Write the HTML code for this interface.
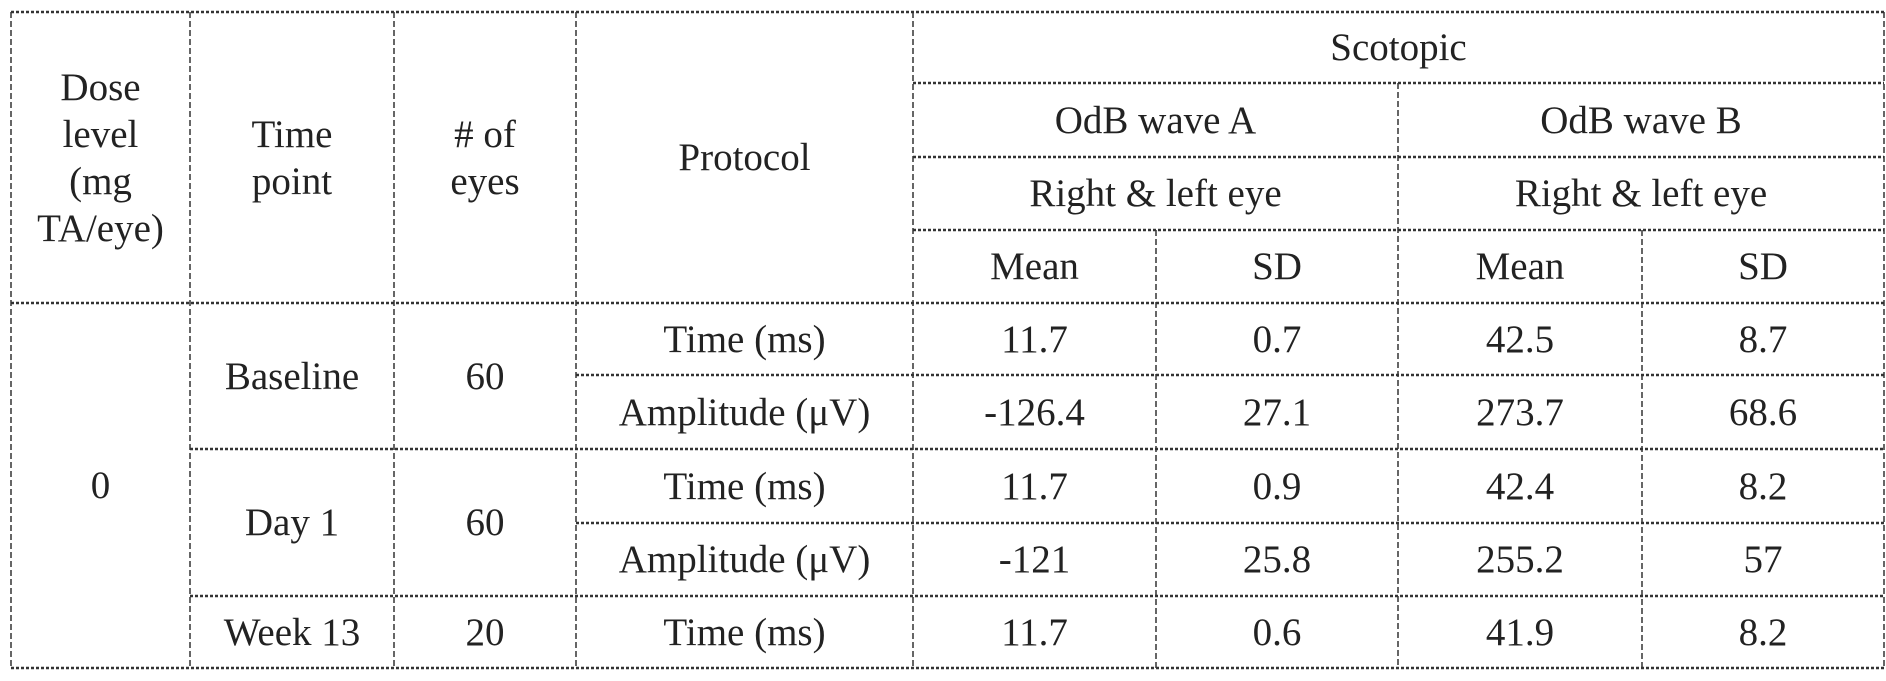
<!DOCTYPE html>
<html><head><meta charset="utf-8"><style>
html,body{margin:0;padding:0;background:#fff;}
#wrap{position:relative;width:1886px;height:681px;overflow:hidden;font-family:"Liberation Serif",serif;color:#222;}
svg{position:absolute;left:0;top:0;}
.c{position:absolute;display:flex;align-items:center;justify-content:center;text-align:center;font-size:39px;line-height:47px;white-space:nowrap;}
</style></head><body>
<div id="wrap">
<svg width="1886" height="681">
<g stroke="#333" fill="none">
<g stroke-width="2.5" stroke-dasharray="3 2">
<line x1="11" y1="12" x2="1884" y2="12"/>
<line x1="913" y1="83" x2="1884" y2="83"/>
<line x1="913" y1="157" x2="1884" y2="157"/>
<line x1="913" y1="230" x2="1884" y2="230"/>
<line x1="11" y1="303" x2="1884" y2="303"/>
<line x1="576" y1="375" x2="1884" y2="375"/>
<line x1="190" y1="449" x2="1884" y2="449"/>
<line x1="576" y1="523" x2="1884" y2="523"/>
<line x1="190" y1="596" x2="1884" y2="596"/>
<line x1="11" y1="668" x2="1884" y2="668"/>
</g>
<g stroke-width="1.5" stroke-dasharray="6 3">
<line x1="11" y1="12" x2="11" y2="668"/>
<line x1="190" y1="12" x2="190" y2="668"/>
<line x1="394" y1="12" x2="394" y2="668"/>
<line x1="576" y1="12" x2="576" y2="668"/>
<line x1="913" y1="12" x2="913" y2="668"/>
<line x1="1156" y1="230" x2="1156" y2="668"/>
<line x1="1398" y1="83" x2="1398" y2="668"/>
<line x1="1642" y1="230" x2="1642" y2="668"/>
<line x1="1884" y1="12" x2="1884" y2="668"/>
</g>
</g>
</svg>
<div class="c" style="left:11px;top:12px;width:179px;height:291px">Dose<br>level<br>(mg<br>TA/eye)</div>
<div class="c" style="left:190px;top:12px;width:204px;height:291px">Time<br>point</div>
<div class="c" style="left:394px;top:12px;width:182px;height:291px"># of<br>eyes</div>
<div class="c" style="left:576px;top:12px;width:337px;height:291px">Protocol</div>
<div class="c" style="left:913px;top:12px;width:971px;height:71px">Scotopic</div>
<div class="c" style="left:913px;top:83px;width:485px;height:74px">OdB wave A</div>
<div class="c" style="left:1398px;top:83px;width:486px;height:74px">OdB wave B</div>
<div class="c" style="left:913px;top:157px;width:485px;height:73px">Right &amp; left eye</div>
<div class="c" style="left:1398px;top:157px;width:486px;height:73px">Right &amp; left eye</div>
<div class="c" style="left:913px;top:230px;width:243px;height:73px">Mean</div>
<div class="c" style="left:1156px;top:230px;width:242px;height:73px">SD</div>
<div class="c" style="left:1398px;top:230px;width:244px;height:73px">Mean</div>
<div class="c" style="left:1642px;top:230px;width:242px;height:73px">SD</div>

<div class="c" style="left:11px;top:303px;width:179px;height:365px">0</div>
<div class="c" style="left:190px;top:303px;width:204px;height:146px">Baseline</div>
<div class="c" style="left:394px;top:303px;width:182px;height:146px">60</div>
<div class="c" style="left:190px;top:449px;width:204px;height:147px">Day 1</div>
<div class="c" style="left:394px;top:449px;width:182px;height:147px">60</div>
<div class="c" style="left:190px;top:596px;width:204px;height:72px">Week 13</div>
<div class="c" style="left:394px;top:596px;width:182px;height:72px">20</div>

<div class="c" style="left:576px;top:303px;width:337px;height:72px">Time (ms)</div>
<div class="c" style="left:576px;top:375px;width:337px;height:74px">Amplitude (μV)</div>
<div class="c" style="left:576px;top:449px;width:337px;height:74px">Time (ms)</div>
<div class="c" style="left:576px;top:523px;width:337px;height:73px">Amplitude (μV)</div>
<div class="c" style="left:576px;top:596px;width:337px;height:72px">Time (ms)</div>

<div class="c" style="left:913px;top:303px;width:243px;height:72px">11.7</div>
<div class="c" style="left:1156px;top:303px;width:242px;height:72px">0.7</div>
<div class="c" style="left:1398px;top:303px;width:244px;height:72px">42.5</div>
<div class="c" style="left:1642px;top:303px;width:242px;height:72px">8.7</div>

<div class="c" style="left:913px;top:375px;width:243px;height:74px">-126.4</div>
<div class="c" style="left:1156px;top:375px;width:242px;height:74px">27.1</div>
<div class="c" style="left:1398px;top:375px;width:244px;height:74px">273.7</div>
<div class="c" style="left:1642px;top:375px;width:242px;height:74px">68.6</div>

<div class="c" style="left:913px;top:449px;width:243px;height:74px">11.7</div>
<div class="c" style="left:1156px;top:449px;width:242px;height:74px">0.9</div>
<div class="c" style="left:1398px;top:449px;width:244px;height:74px">42.4</div>
<div class="c" style="left:1642px;top:449px;width:242px;height:74px">8.2</div>

<div class="c" style="left:913px;top:523px;width:243px;height:73px">-121</div>
<div class="c" style="left:1156px;top:523px;width:242px;height:73px">25.8</div>
<div class="c" style="left:1398px;top:523px;width:244px;height:73px">255.2</div>
<div class="c" style="left:1642px;top:523px;width:242px;height:73px">57</div>

<div class="c" style="left:913px;top:596px;width:243px;height:72px">11.7</div>
<div class="c" style="left:1156px;top:596px;width:242px;height:72px">0.6</div>
<div class="c" style="left:1398px;top:596px;width:244px;height:72px">41.9</div>
<div class="c" style="left:1642px;top:596px;width:242px;height:72px">8.2</div>
</div>
</body></html>
